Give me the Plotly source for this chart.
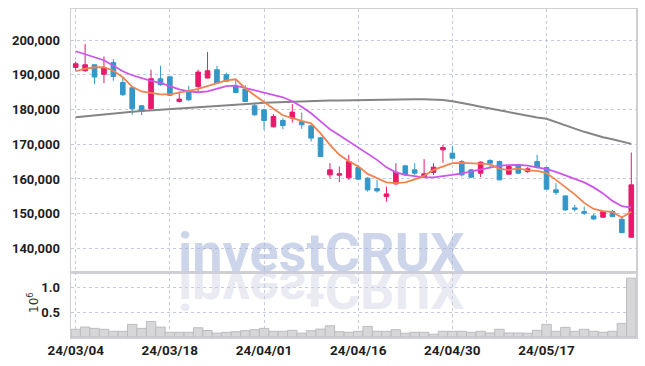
import plotly.graph_objects as go
from plotly.subplots import make_subplots

dates = ["24/03/04","24/03/05","24/03/06","24/03/07","24/03/08","24/03/11","24/03/12","24/03/13","24/03/14","24/03/15",
         "24/03/18","24/03/19","24/03/20","24/03/21","24/03/22","24/03/25","24/03/26","24/03/27","24/03/28","24/03/29",
         "24/04/01","24/04/02","24/04/03","24/04/04","24/04/05","24/04/08","24/04/09","24/04/11","24/04/12","24/04/15",
         "24/04/16","24/04/17","24/04/18","24/04/19","24/04/22","24/04/23","24/04/24","24/04/25","24/04/26","24/04/29",
         "24/04/30","24/05/02","24/05/03","24/05/07","24/05/08","24/05/09","24/05/10","24/05/13","24/05/14","24/05/16",
         "24/05/17","24/05/20","24/05/21","24/05/22","24/05/23","24/05/24","24/05/27","24/05/28","24/05/29","24/05/30"]

opens = [192100,191150,192880,190140,193540,187780,186250,181070,180200,188850,
         189420,182300,185470,186630,189050,191440,190000,186630,185880,181070,
         179910,175010,176830,177520,176460,175300,171840,161180,161090,160320,
         163280,160230,157230,154920,158590,163770,162620,160520,161900,168390,
         167430,165010,162620,161670,165300,165010,161380,164060,162130,165010,
         163280,156860,155130,151670,150600,149360,148990,150600,148410,143220]
highs = [193800,198850,192900,195270,194520,189340,186250,181270,191440,192590,
         189420,185190,186830,191440,196540,192590,190580,188700,186970,181930,
         180200,178670,177520,181560,179130,175440,172100,164550,163570,166950,
         163630,160520,159740,157810,164550,164060,164550,165700,164550,169830,
         169540,165500,162910,165010,165700,165300,164060,164200,163400,166950,
         163570,158790,155270,152530,152040,149940,150700,151090,149360,167610]
lows = [191300,190870,187400,187610,188270,183950,178470,178380,180060,186830,
        183950,182020,182510,184810,189000,187400,187980,184810,182220,178180,
        174150,174810,174350,176250,174440,170780,166300,160230,159080,159740,
        159740,156370,156080,153480,158300,160890,161180,160520,161180,164640,
        165900,160690,160230,160520,163110,159740,161180,161380,161670,163110,
        157000,155410,150890,150600,149650,148210,148900,148990,144370,143170]
closes = [193170,192880,189340,191930,189510,184240,180200,179420,188850,187120,
          184090,182990,182790,190780,191150,187610,188130,184900,182300,178470,
          176830,177980,175390,179250,175590,171760,166450,162620,161470,165010,
          159940,156860,156570,155700,161960,161180,161670,161470,163400,169050,
          165990,161180,160520,164840,164550,159740,163570,161670,162910,163280,
          157060,156080,151090,151290,150140,148500,150600,149160,144550,158300]

ma_short = [191010,191730,192160,192160,191150,189280,186540,185190,184810,184380,
            184380,184810,185390,185960,186830,187690,188410,188700,186110,184090,
            182070,180200,178330,177460,176740,176020,173140,169830,166940,165070,
            163630,161470,160170,159020,158790,159020,159880,160890,162620,163570,
            164550,164640,164550,164550,164260,162910,162620,163050,162480,162330,
            161670,159740,157720,155560,153110,151380,150720,150520,148930,150600]
ma_mid = [196770,195910,195040,194180,192590,191010,189860,188990,188270,187690,
          186830,185820,185190,184960,185240,186020,186740,186890,186250,185530,
          184960,184240,183520,182360,180780,178900,176600,174290,172560,170830,
          169100,167380,165500,163340,161900,161180,160750,160460,160460,160750,
          161180,161610,162190,162820,163400,163830,164000,164060,163830,163430,
          162820,162040,161040,159880,159020,157580,155850,153690,152160,151760]
ma_long = [177750,178040,178330,178590,178850,179080,179340,179540,179740,179910,
           180110,180320,180550,180750,180920,181070,181240,181410,181580,181760,
           181930,182050,182160,182280,182390,182480,182530,182590,182620,182680,
           182710,182740,182770,182790,182850,182880,182940,182940,182910,182740,
           182360,181930,181350,180780,180260,179680,179110,178560,178130,177720,
           177320,176450,175480,174500,173570,172710,171990,171410,170750,170110]

volume_m = [0.154,0.199,0.173,0.154,0.114,0.114,0.252,0.173,0.311,0.199,
            0.094,0.094,0.094,0.185,0.130,0.078,0.094,0.106,0.126,0.146,
            0.173,0.114,0.114,0.134,0.075,0.126,0.159,0.224,0.106,0.094,
            0.114,0.212,0.114,0.114,0.146,0.075,0.094,0.094,0.055,0.114,
            0.114,0.114,0.094,0.114,0.081,0.154,0.081,0.081,0.075,0.134,
            0.252,0.114,0.193,0.114,0.154,0.114,0.094,0.114,0.272,1.177]

price_ticks = [140000, 150000, 160000, 170000, 180000, 190000, 200000]
volume_ticks = [0.5, 1.0]
date_tick_idx = [0, 10, 20, 30, 40, 50]
volume_unit = "10<sup>6</sup>"
watermark = "investCRUX"

W, H = 645, 366
ML, MR, MT, MB = 71, 9, 9, 29
plot_w = W - ML - MR
plot_h = H - MT - MB
split_px = 272.3
vol_top = (H - MB - split_px) / plot_h

UP = "#e8196b"
DOWN = "#3397c9"
GRID = "#c5cadf"
FRAME = "#cfcfd4"
TICKFONT = dict(family="Roboto", size=13, color="#1e1e1e", weight="bold")

fig = make_subplots(rows=2, cols=1, shared_xaxes=True, vertical_spacing=0,
                    row_heights=[1 - vol_top, vol_top])

fig.add_trace(go.Candlestick(
    x=dates, open=opens, high=highs, low=lows, close=closes,
    increasing=dict(line=dict(color=UP, width=1), fillcolor=UP),
    decreasing=dict(line=dict(color=DOWN, width=1), fillcolor=DOWN),
    whiskerwidth=0, showlegend=False, hoverinfo="skip"), row=1, col=1)

fig.add_trace(go.Scatter(x=dates, y=ma_long, mode="lines", line=dict(color="#858585", width=2),
                         showlegend=False, hoverinfo="skip"), row=1, col=1)
fig.add_trace(go.Scatter(x=dates, y=ma_mid, mode="lines", line=dict(color="#cc55ea", width=1.8),
                         showlegend=False, hoverinfo="skip"), row=1, col=1)
fig.add_trace(go.Scatter(x=dates, y=ma_short, mode="lines", line=dict(color="#f0844e", width=1.8),
                         showlegend=False, hoverinfo="skip"), row=1, col=1)

fig.add_trace(go.Bar(x=dates, y=volume_m, marker=dict(color="#d7d7d9", line=dict(color="#bcbcc0", width=1)),
                     showlegend=False, hoverinfo="skip"), row=2, col=1)

axis_common = dict(showgrid=True, gridcolor=GRID, griddash="dot", gridwidth=1,
                   showline=True, linecolor=FRAME, linewidth=1.5, mirror=True,
                   zeroline=False, ticks="", tickfont=TICKFONT, automargin=False)

fig.update_xaxes(type="category", range=[-0.5, len(dates) - 0.5],
                 tickvals=[dates[i] for i in date_tick_idx],
                 ticktext=[dates[i] for i in date_tick_idx],
                 rangeslider=dict(visible=False), tickangle=0, **axis_common)
fig.update_xaxes(showticklabels=False, row=1, col=1)
fig.update_xaxes(ticklabelstandoff=0, tickfont=dict(family="Roboto", size=13.5, color="#1e1e1e", weight="bold"),
                 row=2, col=1)

fig.update_yaxes(range=[133130, 208930], tickvals=price_ticks, tickformat=",d",
                 ticklabelstandoff=7, row=1, col=1, **axis_common)
fig.update_yaxes(range=[0, 1.295], tickvals=volume_ticks, tickformat=".1f",
                 ticklabelstandoff=7, row=2, col=1, **axis_common)

# volume unit label (rotated)
fig.add_annotation(text=volume_unit, xref="paper", yref="paper",
                   x=(33 - ML) / plot_w, y=(H - MB - 303) / plot_h,
                   xanchor="center", yanchor="middle", showarrow=False, textangle=-90,
                   font=dict(family="DejaVu Sans", size=12, color="#333"))

wm_x = (321.5 - ML) / plot_w
wm_y = (H - MB - 286) / plot_h
wm_font = dict(family="Roboto", size=54, weight="bold")
fig.add_annotation(text=watermark, xref="paper", yref="paper", x=wm_x, y=wm_y,
                   xanchor="center", yanchor="bottom", showarrow=False,
                   font=dict(color="rgba(160,175,215,0.52)", **wm_font))
fig.add_annotation(text=watermark, xref="paper", yref="paper", x=wm_x, y=wm_y,
                   xanchor="center", yanchor="bottom", showarrow=False,
                   font=dict(color="rgba(205,208,226,0.45)", **wm_font))

fig.update_layout(width=W, height=H, margin=dict(l=ML, r=MR, t=MT, b=MB, autoexpand=False),
                  paper_bgcolor="white", plot_bgcolor="white", bargap=0,
                  showlegend=False)

post = """
document.body.style.margin = '0';
document.body.style.padding = '0';
var gd = document.getElementById('{plot_id}');
function flipWM(){
  var t = gd.querySelector('g.annotation[data-index="2"] text.annotation-text');
  if(!t) return;
  var y = parseFloat(t.getAttribute('y')) || 0;
  t.setAttribute('transform', 'translate(0,' + (2*y) + ') scale(1,-1)');
}
flipWM();
if (gd.on) gd.on('plotly_afterplot', flipWM);
"""
fig.write_html("out.html", post_script=post, config={"displayModeBar": False, "staticPlot": True})
